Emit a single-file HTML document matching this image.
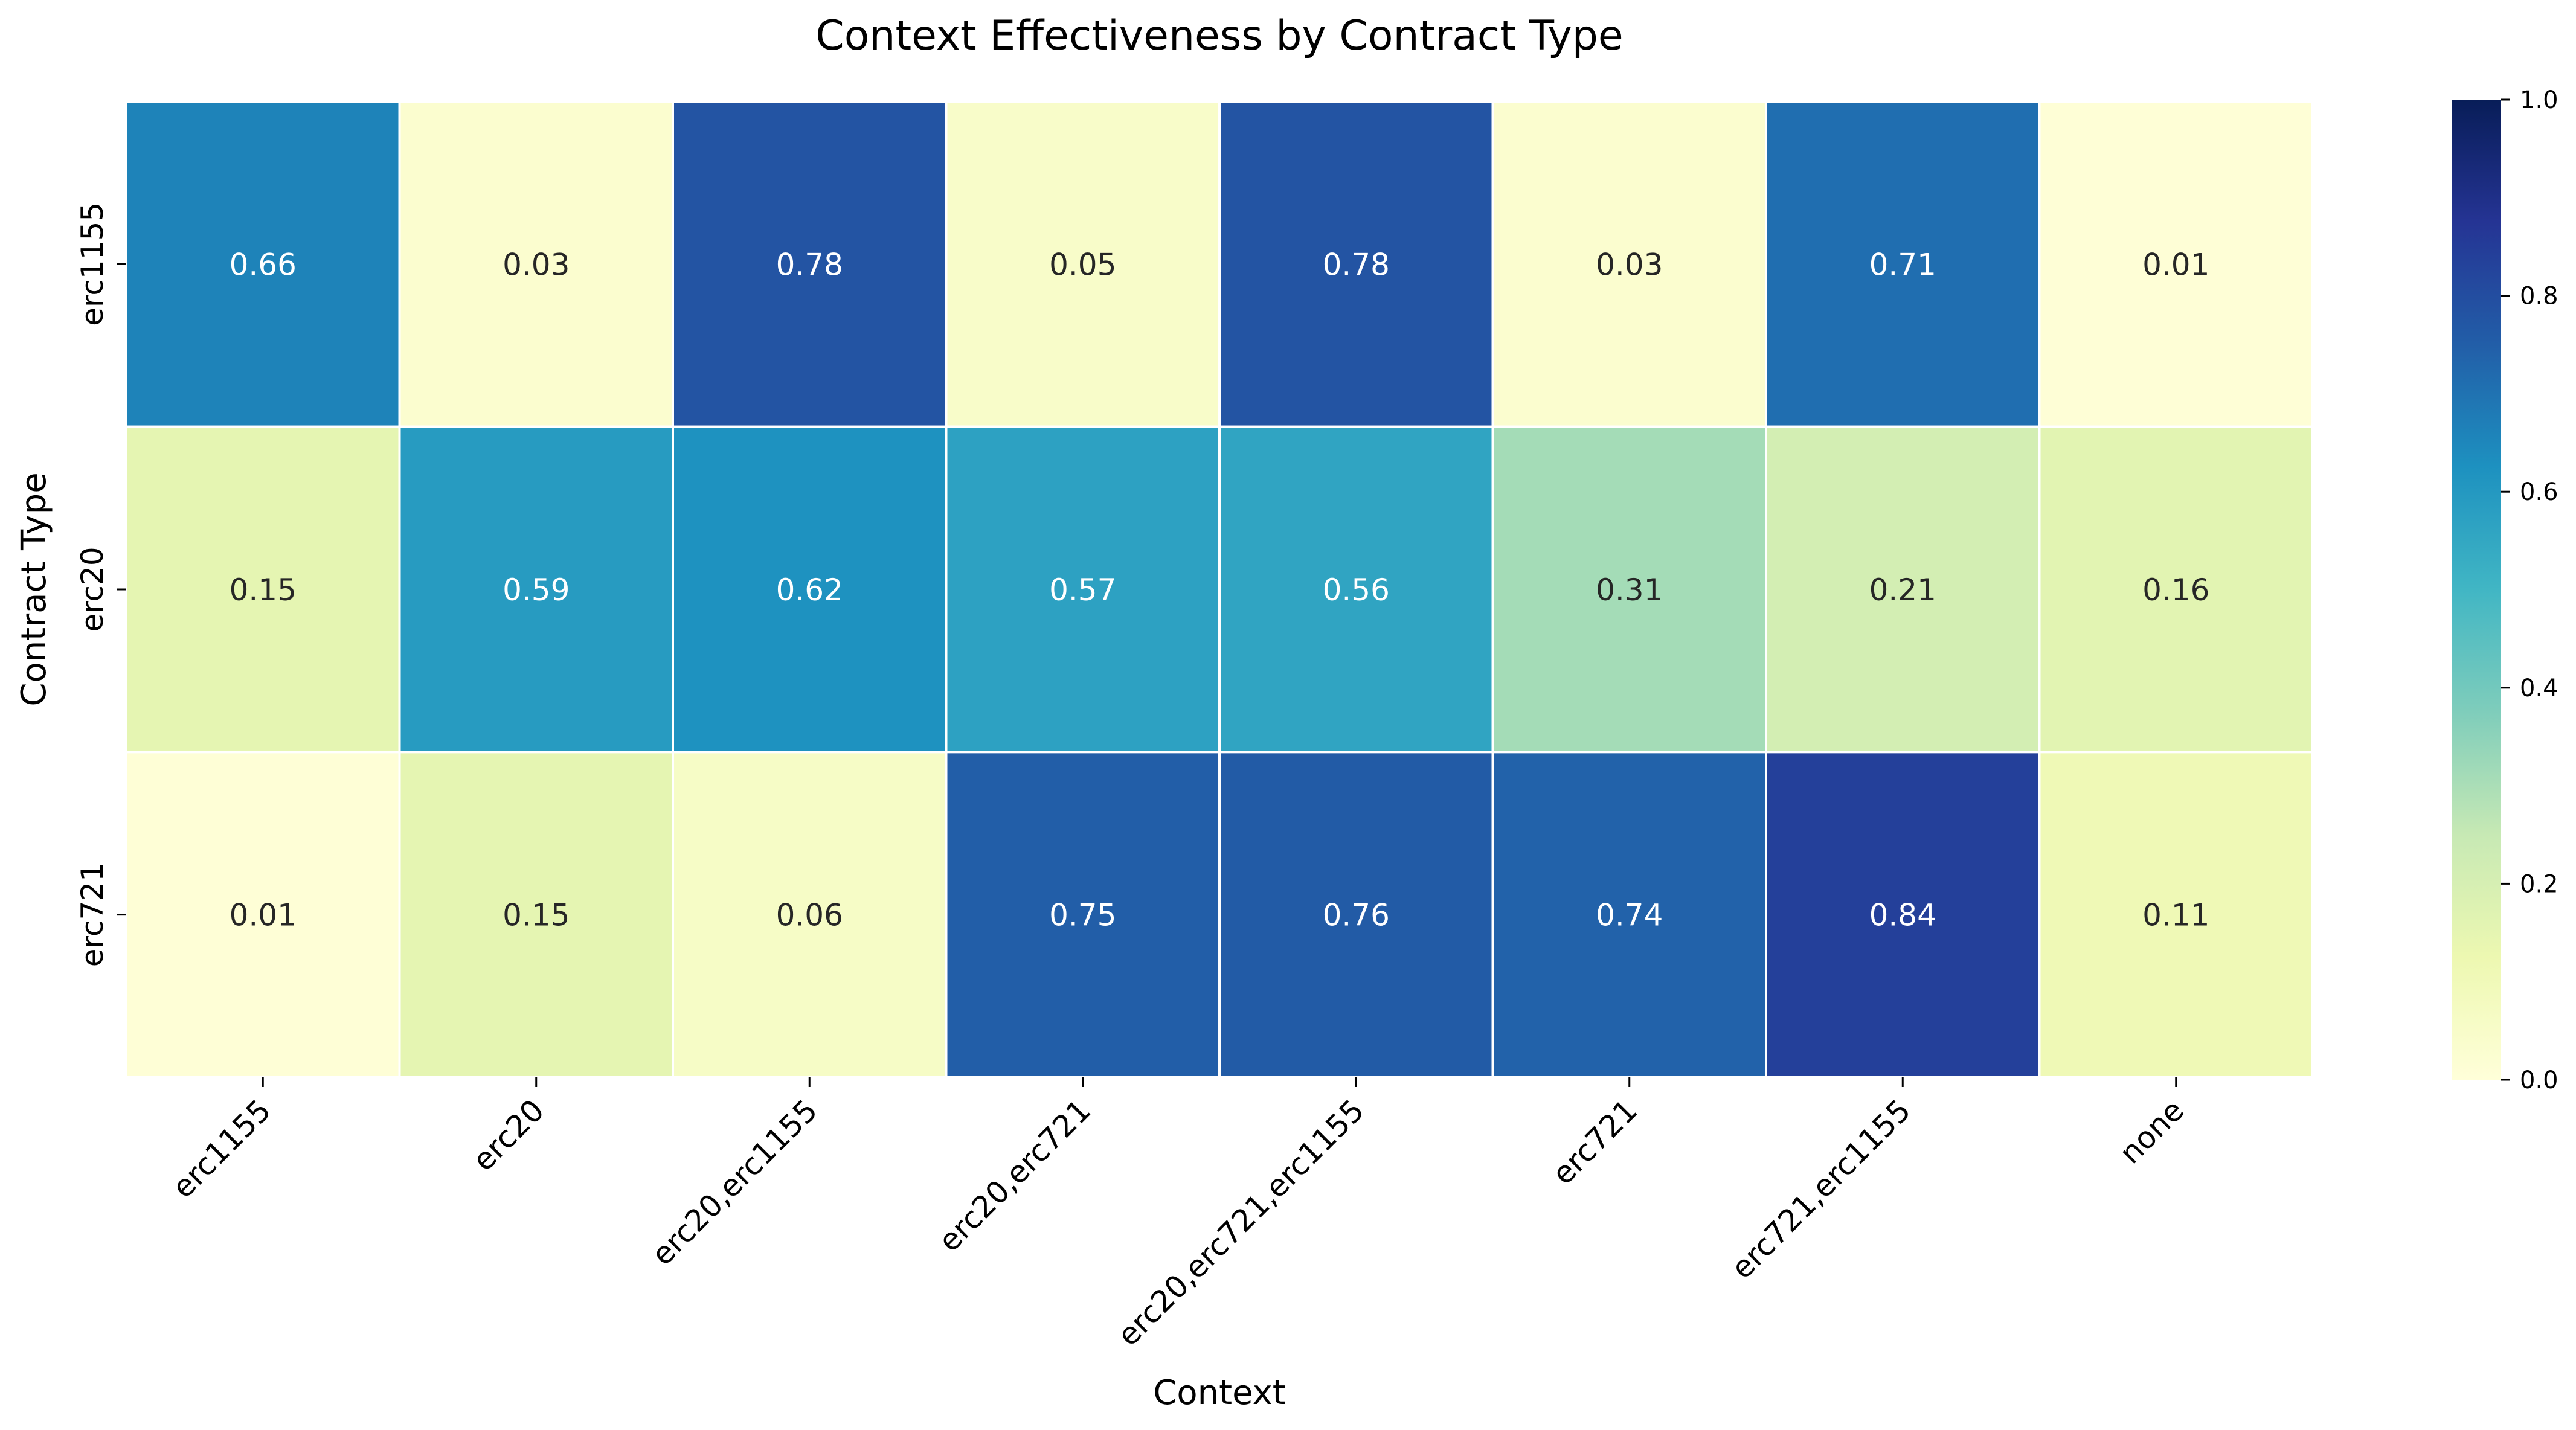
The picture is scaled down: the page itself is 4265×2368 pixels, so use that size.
<!DOCTYPE html>
<html><head><meta charset="utf-8"><style>
html,body{margin:0;padding:0;background:#fff}
svg{display:block;font-family:"DejaVu Sans","Liberation Sans",sans-serif}
</style></head><body>
<svg id="chart" width="4265" height="2368" viewBox="0 0 4265 2368" xmlns="http://www.w3.org/2000/svg">
<defs>
<linearGradient id="cbgrad" x1="0" y1="1" x2="0" y2="0">
<stop offset="0" stop-color="#ffffd9"/><stop offset="0.125" stop-color="#edf8b1"/><stop offset="0.25" stop-color="#c7e9b4"/><stop offset="0.375" stop-color="#7fcdbb"/><stop offset="0.5" stop-color="#41b6c4"/><stop offset="0.625" stop-color="#1d91c0"/><stop offset="0.75" stop-color="#225ea8"/><stop offset="0.875" stop-color="#253494"/><stop offset="1" stop-color="#081d58"/>
</linearGradient>
</defs>
<text x="2019" y="82" font-size="68" text-anchor="middle">Context Effectiveness by Contract Type</text>
<g id="cells"></g>
<g id="axes"></g>
<text x="2019" y="2325" font-size="56" text-anchor="middle">Context</text>
<text transform="translate(75,976) rotate(-90)" font-size="56" text-anchor="middle">Contract Type</text>
<g id="colorbar"></g>
</svg>
<script>
const contexts = ["erc1155","erc20","erc20,erc1155","erc20,erc721","erc20,erc721,erc1155","erc721","erc721,erc1155","none"];
const contractTypes = ["erc1155","erc20","erc721"];
const rowErc1155 = [0.66,0.03,0.78,0.05,0.78,0.03,0.71,0.01];
const rowErc20 = [0.15,0.59,0.62,0.57,0.56,0.31,0.21,0.16];
const rowErc721 = [0.01,0.15,0.06,0.75,0.76,0.74,0.84,0.11];
const values = [rowErc1155,rowErc20,rowErc721];
const cbTicks = [0.0,0.2,0.4,0.6,0.8,1.0];

const NS="http://www.w3.org/2000/svg";
const L=209,R=3829,T=168,B=1784;
const cw=(R-L)/contexts.length, ch=(B-T)/contractTypes.length;
const xPos=i=>L+i*cw, yPos=j=>T+j*ch;
const stops=[[255,255,217],[237,248,177],[199,233,180],[127,205,187],[65,182,196],[29,145,192],[34,94,168],[37,52,148],[8,29,88]];
function cmap(v){v=Math.max(0,Math.min(1,v));const p=v*8,i=Math.min(7,Math.floor(p)),f=p-i;const a=stops[i],b=stops[i+1];return a.map((c,k)=>Math.round(c+(b[k]-c)*f));}
function mk(tag,attrs,parent,txt){const e=document.createElementNS(NS,tag);for(const k in attrs)e.setAttribute(k,attrs[k]);if(txt!==undefined)e.textContent=txt;parent.appendChild(e);return e;}
const cells=document.getElementById('cells'),axes=document.getElementById('axes'),cb=document.getElementById('colorbar');
values.forEach((row,j)=>row.forEach((v,i)=>{
 const c=cmap(v);
 const r=mk('rect',{x:xPos(i),y:yPos(j),width:cw,height:ch,fill:`rgb(${c})`,stroke:'#fff','stroke-width':4},cells);
 
 
 const lum=0.2126*Math.pow(c[0]/255,2.2)+0.7152*Math.pow(c[1]/255,2.2)+0.0722*Math.pow(c[2]/255,2.2);
 const t=mk('text',{x:xPos(i)+cw/2,y:yPos(j)+ch/2+18,'font-size':50,'text-anchor':'middle',fill:lum>0.408?'#262626':'#fff'},cells,v.toFixed(2));
 
 
}));
contexts.forEach((c,i)=>{
 const x=xPos(i)+cw/2;
 mk('line',{x1:x,y1:B,x2:x,y2:B+16,stroke:'#000','stroke-width':3},axes);
 const t=mk('text',{transform:`translate(${x+16},${B+58}) rotate(-45)`,'font-size':50,'text-anchor':'end'},axes,c);
 
 
});
contractTypes.forEach((c,j)=>{
 const y=yPos(j)+ch/2;
 mk('line',{x1:L-16,y1:y,x2:L,y2:y,stroke:'#000','stroke-width':3},axes);
 const t=mk('text',{transform:`translate(170,${y}) rotate(-90)`,'font-size':50,'text-anchor':'middle'},axes,c);
 
 
});
const CX=4059,CW=81,CT=165,CB=1788;
const bar=mk('rect',{x:CX,y:CT,width:CW,height:CB-CT,fill:'url(#cbgrad)'},cb);


cbTicks.forEach(v=>{
 const y=CB-v*(CB-CT);
 mk('line',{x1:CX+CW,y1:y,x2:CX+CW+16,y2:y,stroke:'#000','stroke-width':3},cb);
 const t=mk('text',{x:CX+CW+32,y:y+14,'font-size':40},cb,v.toFixed(1));
 
 
});
</script>
</body></html>
